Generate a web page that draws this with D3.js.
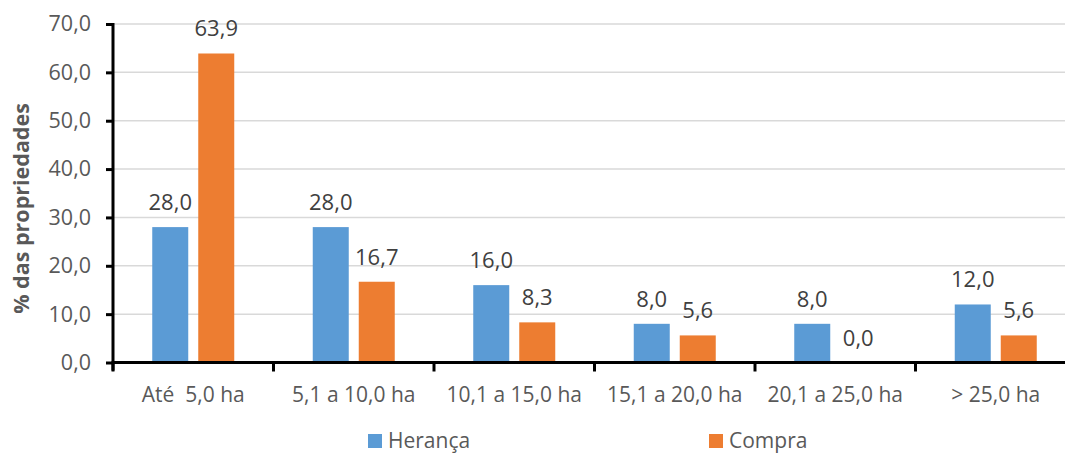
<!DOCTYPE html>
<html>
<head>
<meta charset="utf-8">
<script src="https://cdn.jsdelivr.net/npm/d3@7"></script>
<style>
  html, body { margin: 0; padding: 0; background: #fff; }
  svg { display: block; font-family: "Open Sans", "Noto Sans", sans-serif; }
</style>
</head>
<body>
<script>
// Distribuição das propriedades por classe de área, segundo a forma de aquisição
const categories = ["Até  5,0 ha", "5,1 a 10,0 ha", "10,1 a 15,0 ha", "15,1 a 20,0 ha", "20,1 a 25,0 ha", "> 25,0 ha"];
const seriesNames = ["Herança", "Compra"];
const heranca = [28.0, 28.0, 16.0, 8.0, 8.0, 12.0];
const compra = [63.9, 16.7, 8.3, 5.6, 0.0, 5.6];
const yTicks = [0, 10, 20, 30, 40, 50, 60, 70];
const colors = ["#5b9bd5", "#ed7d31"];

const W = 1065, H = 455;
const plotLeft = 113, plotRight = 1076, plotTop = 24, plotBottom = 362.5;

const svg = d3.select("body").append("svg").attr("width", W).attr("height", H);

const x = d3.scaleBand().domain(categories).range([plotLeft, plotRight]).padding(0);
const y = d3.scaleLinear().domain([0, 70]).range([plotBottom, plotTop]);
const fmt = v => v.toFixed(1).replace(".", ",");

// gridlines
svg.append("g").selectAll("line").data(yTicks.filter(d => d > 0)).join("line")
  .attr("x1", plotLeft).attr("x2", W)
  .attr("y1", d => y(d)).attr("y2", d => y(d))
  .attr("stroke", "#d9d9d9").attr("stroke-width", 1.5);

// bars with value labels
const barW = 36, gap = 10;
const series = [heranca, compra];
series.forEach((vals, si) => {
  const offset = si === 0 ? -(gap / 2 + barW) : gap / 2;
  const g = svg.append("g");
  g.selectAll("rect").data(categories).join("rect")
    .attr("x", c => x(c) + x.bandwidth() / 2 + offset)
    .attr("y", (c, i) => y(vals[i]))
    .attr("width", barW)
    .attr("height", (c, i) => y(0) - y(vals[i]))
    .attr("fill", colors[si]);
  g.selectAll("text").data(categories).join("text")
    .attr("x", c => x(c) + x.bandwidth() / 2 + offset + barW / 2)
    .attr("y", (c, i) => y(vals[i]) - 17)
    .attr("text-anchor", "middle")
    .attr("font-size", 22)
    .attr("fill", "#404040")
    .text((c, i) => fmt(vals[i]));
});

// y axis
const yAxis = svg.append("g").attr("transform", `translate(${plotLeft},0)`)
  .call(d3.axisLeft(y).tickValues(yTicks).tickFormat(fmt).tickSize(7).tickPadding(15));
yAxis.select(".domain").attr("stroke", "#000").attr("stroke-width", 3)
  .attr("d", `M0,${plotTop - 1}V${plotBottom + 8}`);
yAxis.selectAll(".tick line").attr("stroke", "#000").attr("stroke-width", 3);
yAxis.selectAll(".tick text").attr("font-size", 21.5).attr("fill", "#595959")
  .attr("font-family", "Open Sans, sans-serif");

// x axis
const boundaries = categories.map(c => x(c)).concat([plotRight]);
const xAxisG = svg.append("g");
xAxisG.append("line").attr("x1", plotLeft - 1.5).attr("x2", W)
  .attr("y1", y(0)).attr("y2", y(0))
  .attr("stroke", "#000").attr("stroke-width", 3);
xAxisG.selectAll("line.tk").data(boundaries).join("line").attr("class", "tk")
  .attr("x1", d => d).attr("x2", d => d)
  .attr("y1", y(0)).attr("y2", y(0) + 9)
  .attr("stroke", "#000").attr("stroke-width", 3);
xAxisG.selectAll("text").data(categories).join("text")
  .attr("x", c => x(c) + x.bandwidth() / 2)
  .attr("y", 402)
  .attr("text-anchor", "middle")
  .attr("font-size", 21)
  .attr("fill", "#595959")
  .style("white-space", "pre")
  .text(c => c);

// y axis title
svg.append("text")
  .attr("transform", `translate(29,${(105 + 312) / 2}) rotate(-90)`)
  .attr("text-anchor", "middle")
  .attr("font-size", 21.5)
  .attr("font-weight", "bold")
  .attr("fill", "#595959")
  .text("% das propriedades");

// legend
const legendX = [368, 709];
const lg = svg.append("g").selectAll("g").data(seriesNames).join("g")
  .attr("transform", (d, i) => `translate(${legendX[i]},434)`);
lg.append("rect").attr("width", 14).attr("height", 14).attr("fill", (d, i) => colors[i]);
lg.append("text").attr("x", 20).attr("y", 14)
  .attr("font-size", 21).attr("fill", "#595959").text(d => d);
</script>
</body>
</html>
